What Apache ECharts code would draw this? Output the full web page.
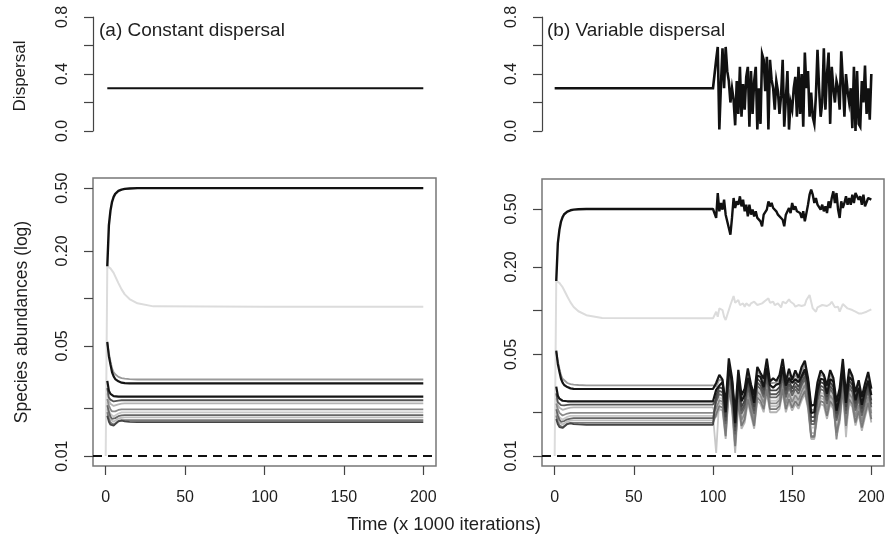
<!DOCTYPE html>
<html><head><meta charset="utf-8">
<script src="https://cdn.jsdelivr.net/npm/echarts@6/dist/echarts.min.js"></script>
<style>html,body{margin:0;padding:0;background:#fff}#c{width:889px;height:551px}</style>
</head><body><div id="c"></div>
<script>
// ---------- DATA ----------
const xTicks = [0, 50, 100, 150, 200];
const yTicksDisp = [0, 0.2, 0.4, 0.6, 0.8];
const yLabelsDisp = [0, 0.4, 0.8];
const yTicksAbund = [0.01, 0.02, 0.05, 0.1, 0.2, 0.5];
const yLabelsAbund = [0.01, 0.05, 0.2, 0.5];

// dispersal
const dispConstT = [1, 200];
const dispConstV = [0.3, 0.3];
const dispVarT = [0,100,101,102,103,104,105,106,107,108,109,110,111,112,113,114,115,116,117,118,119,120,121,122,123,124,125,126,127,128,129,130,131,132,133,134,135,136,137,138,139,140,141,142,143,144,145,146,147,148,149,150,151,152,153,154,155,156,157,158,159,160,161,162,163,164,165,166,167,168,169,170,171,172,173,174,175,176,177,178,179,180,181,182,183,184,185,186,187,188,189,190,191,192,193,194,195,196,197,198,199,200];
const dispVarV = [0.30,0.30,0.30,0.50,0.59,0.01,0.32,0.58,0.30,0.59,0.42,0.35,0.20,0.30,0.22,0.04,0.35,0.12,0.45,0.10,0.33,0.15,0.38,0.45,0.03,0.42,0.12,0.35,0.45,0.01,0.30,0.05,0.54,0.50,0.28,0.52,0.01,0.50,0.36,0.30,0.15,0.35,0.28,0.12,0.25,0.50,0.03,0.22,0.42,0.01,0.20,0.15,0.30,0.38,0.10,0.45,0.12,0.40,0.03,0.55,0.30,0.42,0.10,0.27,0.10,0.05,0.25,0.57,0.30,0.10,0.20,0.58,0.15,0.40,0.55,0.05,0.45,0.30,0.20,0.35,0.30,0.15,0.56,0.35,0.10,0.40,0.28,0.20,0.30,0.02,0.45,0.00,0.42,0.05,0.03,0.35,0.20,0.46,0.12,0.30,0.08,0.40];

// abundances: early phase (identical in both runs), last entry = t 200 for constant run
const tEarly = [0, 1, 2, 3, 4, 5, 6, 8, 10, 12, 15, 20, 30, 100, 200];
const sp1Early = [null,0.16,0.29,0.36,0.41,0.44,0.46,0.48,0.49,0.495,0.498,0.5,0.5,0.5,0.5];
const sp2Early = [0.01,0.16,0.158,0.155,0.15,0.145,0.138,0.125,0.114,0.106,0.099,0.093,0.089,0.0885,0.0885];
const c1Early = [null,0.052,0.045,0.040,0.036,0.034,0.033,0.0318,0.0312,0.031,0.0308,0.0306,0.0306,0.0306,0.0306];
const c2Early = [null,0.053,0.043,0.038,0.034,0.032,0.0308,0.0298,0.0292,0.029,0.0289,0.0289,0.0289,0.0289,0.0289];
const c3Early = [null,0.030,0.026,0.0248,0.0243,0.024,0.0239,0.0238,0.0238,0.0238,0.0238,0.0238,0.0238,0.0238,0.0238];
const c4Early = [null,0.027,0.0235,0.0228,0.0224,0.0222,0.0223,0.0225,0.0226,0.0226,0.0226,0.0226,0.0226,0.0226,0.0226];
const c5Early = [null,0.025,0.0225,0.0215,0.021,0.0208,0.021,0.0213,0.0215,0.0216,0.0216,0.0216,0.0216,0.0216,0.0216];
const c6Early = [null,0.023,0.021,0.0198,0.0192,0.019,0.0192,0.0196,0.0198,0.0198,0.0198,0.0198,0.0198,0.0198,0.0198];
const c7Early = [null,0.022,0.0195,0.0185,0.018,0.0178,0.0181,0.0186,0.0189,0.0189,0.0189,0.0189,0.0189,0.0189,0.0189];
const c8Early = [null,0.021,0.019,0.0178,0.0172,0.0171,0.0174,0.0179,0.0181,0.0182,0.0182,0.0182,0.0182,0.0182,0.0182];
const c9Early = [null,0.02,0.018,0.017,0.0166,0.0165,0.0168,0.0173,0.0175,0.0176,0.0176,0.0176,0.0176,0.0176,0.0176];
const c10Early = [null,0.019,0.0172,0.0163,0.0159,0.0158,0.0162,0.0167,0.0169,0.0169,0.0169,0.0169,0.0169,0.0169,0.0169];
const c11Early = [null,0.018,0.0165,0.0158,0.0155,0.0156,0.016,0.0166,0.0168,0.0166,0.0165,0.0164,0.0164,0.0164,0.0164];

// variable phase (run b)
const sp1VarT = [101,102,103,104,105,106,107,108,110,111,112,113,114,115,116,117,118,119,120,121,122,123,124,125,126,127,128,130,131,132,134,135,136,137,138,140,141,142,144,145,146,147,148,149,150,151,152,153,154,155,156,157,158,159,160,161,162,163,164,165,166,167,168,169,170,171,172,173,174,175,176,177,178,179,180,181,182,183,184,185,186,187,188,189,190,191,192,193,194,195,196,198,200];
const sp1VarV = [0.495,0.434,0.644,0.482,0.55,0.495,0.579,0.457,0.37,0.333,0.434,0.595,0.508,0.564,0.535,0.611,0.521,0.579,0.482,0.535,0.445,0.535,0.457,0.495,0.445,0.482,0.434,0.411,0.38,0.457,0.495,0.564,0.521,0.55,0.508,0.482,0.457,0.469,0.422,0.38,0.457,0.469,0.508,0.469,0.55,0.495,0.521,0.482,0.495,0.469,0.434,0.482,0.411,0.40,0.535,0.627,0.679,0.627,0.55,0.595,0.535,0.55,0.495,0.535,0.482,0.521,0.469,0.564,0.508,0.595,0.661,0.55,0.644,0.495,0.434,0.564,0.508,0.55,0.611,0.535,0.595,0.535,0.627,0.55,0.644,0.627,0.579,0.611,0.535,0.627,0.521,0.595,0.58];
const sp2VarT = [101,102,103,104,106,107,108,109,111,113,114,116,117,119,120,121,123,124,126,128,129,131,133,135,136,138,139,141,143,144,146,148,149,151,152,154,156,158,159,161,162,163,165,166,167,169,170,172,174,175,177,179,180,182,183,185,186,188,190,192,194,195,197,198,200];
const sp2VarV = [0.0885,0.0983,0.0908,0.1036,0.1009,0.0908,0.0862,0.0885,0.1093,0.126,0.1134,0.1183,0.1093,0.1122,0.1064,0.1122,0.1076,0.1122,0.1152,0.1093,0.111,0.1122,0.117,0.1214,0.1134,0.1152,0.1093,0.1122,0.1053,0.1152,0.1122,0.1196,0.1152,0.111,0.1064,0.1093,0.1076,0.1093,0.1183,0.128,0.1152,0.1036,0.0983,0.1053,0.1036,0.1093,0.1122,0.1076,0.111,0.1152,0.1053,0.1064,0.0983,0.111,0.1076,0.1036,0.102,0.1009,0.0983,0.0957,0.0957,0.0943,0.0983,0.1009,0.102];

const tVar = [102,104,106,108,110,112,114,116,118,120,122,124,126,128,130,132,134,136,138,140,142,144,146,148,150,152,154,156,158,160,162,164,166,168,170,172,174,176,178,180,182,184,186,188,190,192,194,196,198,200];
const c1Var = [0.0300,0.0335,0.0330,0.0210,0.0435,0.0335,0.0178,0.0362,0.0245,0.0272,0.0372,0.0302,0.0245,0.0382,0.0362,0.0318,0.0435,0.0318,0.0318,0.0320,0.0335,0.0435,0.0318,0.0372,0.0325,0.0362,0.0335,0.0382,0.0425,0.0335,0.0208,0.0208,0.0302,0.0362,0.0352,0.0286,0.0362,0.0335,0.0220,0.0272,0.0435,0.0245,0.0372,0.0345,0.0258,0.0310,0.0238,0.0294,0.0352,0.0272];
const c2Var = [0.0318,0.0362,0.0335,0.0225,0.0470,0.0345,0.0195,0.0392,0.0262,0.0290,0.0400,0.0310,0.0262,0.0410,0.0372,0.0340,0.0468,0.0325,0.0342,0.0328,0.0360,0.0465,0.0325,0.0398,0.0335,0.0388,0.0345,0.0410,0.0452,0.0345,0.0222,0.0225,0.0322,0.0388,0.0362,0.0305,0.0390,0.0345,0.0235,0.0292,0.0465,0.0262,0.0398,0.0355,0.0275,0.0332,0.0255,0.0315,0.0378,0.0290];
const c3Var = [0.0285,0.0305,0.0322,0.0200,0.0398,0.0330,0.0168,0.0335,0.0238,0.0262,0.0345,0.0295,0.0232,0.0358,0.0350,0.0298,0.0405,0.0308,0.0295,0.0310,0.0315,0.0408,0.0305,0.0345,0.0318,0.0338,0.0322,0.0355,0.0395,0.0325,0.0198,0.0200,0.0285,0.0340,0.0335,0.0268,0.0338,0.0325,0.0205,0.0258,0.0405,0.0232,0.0350,0.0330,0.0242,0.0295,0.0225,0.0282,0.0330,0.0262];
const c11Var = [0.0262,0.0298,0.0291,0.0185,0.0388,0.0298,0.0158,0.0323,0.0218,0.0241,0.0332,0.0269,0.0218,0.0341,0.0323,0.0283,0.0388,0.0283,0.0283,0.0283,0.0298,0.0388,0.0283,0.0332,0.0291,0.0323,0.0298,0.0341,0.0379,0.0298,0.0185,0.0185,0.0269,0.0323,0.0315,0.0255,0.0323,0.0298,0.0196,0.0241,0.0388,0.0218,0.0332,0.0307,0.0230,0.0276,0.0212,0.0262,0.0315,0.0241];
const c4Var = [0.0246,0.0281,0.0274,0.0174,0.0366,0.0281,0.0149,0.0304,0.0205,0.0227,0.0312,0.0253,0.0205,0.0321,0.0304,0.0266,0.0366,0.0266,0.0266,0.0266,0.0281,0.0366,0.0266,0.0312,0.0274,0.0304,0.0281,0.0321,0.0357,0.0281,0.0174,0.0174,0.0253,0.0304,0.0296,0.0240,0.0304,0.0281,0.0184,0.0227,0.0366,0.0205,0.0312,0.0289,0.0216,0.0260,0.0199,0.0246,0.0296,0.0227];
const c8Var = [0.0234,0.0267,0.0260,0.0166,0.0347,0.0267,0.0141,0.0289,0.0195,0.0216,0.0296,0.0240,0.0195,0.0305,0.0289,0.0253,0.0347,0.0253,0.0253,0.0253,0.0267,0.0347,0.0253,0.0296,0.0260,0.0289,0.0267,0.0305,0.0339,0.0267,0.0166,0.0166,0.0240,0.0289,0.0281,0.0228,0.0289,0.0267,0.0175,0.0216,0.0347,0.0195,0.0296,0.0274,0.0205,0.0247,0.0189,0.0234,0.0281,0.0216];
const c7Var = [0.0105,0.0253,0.0246,0.0157,0.0329,0.0253,0.0134,0.0274,0.0184,0.0204,0.0281,0.0228,0.0184,0.0289,0.0274,0.0240,0.0329,0.0240,0.0240,0.0240,0.0253,0.0329,0.0240,0.0281,0.0246,0.0274,0.0253,0.0289,0.0321,0.0253,0.0157,0.0157,0.0228,0.0274,0.0266,0.0216,0.0274,0.0253,0.0166,0.0204,0.0329,0.0184,0.0281,0.0260,0.0194,0.0234,0.0179,0.0222,0.0266,0.0204];
const c6Var = [0.0213,0.0242,0.0236,0.0150,0.0315,0.0242,0.0128,0.0262,0.0177,0.0196,0.0269,0.0218,0.0177,0.0277,0.0262,0.0230,0.0315,0.0230,0.0230,0.0230,0.0242,0.0315,0.0230,0.0269,0.0236,0.0262,0.0242,0.0277,0.0308,0.0242,0.0135,0.0135,0.0218,0.0262,0.0255,0.0207,0.0262,0.0242,0.0130,0.0196,0.0315,0.0177,0.0269,0.0249,0.0186,0.0224,0.0172,0.0213,0.0255,0.0196];
const c9Var = [0.0203,0.0232,0.0226,0.0144,0.0302,0.0232,0.0118,0.0251,0.0169,0.0187,0.0257,0.0209,0.0169,0.0265,0.0251,0.0220,0.0302,0.0220,0.0220,0.0220,0.0232,0.0302,0.0220,0.0257,0.0226,0.0251,0.0232,0.0265,0.0294,0.0232,0.0144,0.0144,0.0209,0.0251,0.0244,0.0198,0.0251,0.0232,0.0152,0.0187,0.0302,0.0135,0.0257,0.0238,0.0178,0.0215,0.0164,0.0203,0.0244,0.0187];
const c10Var = [0.0194,0.0221,0.0215,0.0137,0.0288,0.0221,0.0117,0.0239,0.0161,0.0179,0.0246,0.0199,0.0161,0.0253,0.0239,0.0210,0.0288,0.0210,0.0210,0.0210,0.0221,0.0288,0.0210,0.0246,0.0215,0.0239,0.0221,0.0253,0.0281,0.0221,0.0137,0.0137,0.0199,0.0239,0.0233,0.0189,0.0239,0.0221,0.0145,0.0179,0.0288,0.0161,0.0246,0.0227,0.0170,0.0205,0.0157,0.0194,0.0233,0.0179];
const c5Var = [0.0185,0.0211,0.0205,0.0131,0.0274,0.0211,0.0105,0.0228,0.0154,0.0170,0.0234,0.0190,0.0154,0.0241,0.0228,0.0200,0.0274,0.0200,0.0200,0.0200,0.0211,0.0274,0.0200,0.0234,0.0205,0.0228,0.0211,0.0241,0.0268,0.0211,0.0131,0.0131,0.0190,0.0228,0.0222,0.0180,0.0228,0.0211,0.0138,0.0170,0.0274,0.0154,0.0234,0.0217,0.0162,0.0195,0.0149,0.0185,0.0222,0.0170];

// ---------- STYLE ----------
const FONT = '"Liberation Sans", Arial, Helvetica, sans-serif';
const TXT = '#1e1e1e';

// species drawn light first, dark last
const species = [
  {early: sp2Early, varT: sp2VarT, varV: sp2VarV, color: '#dcdcdc', w: 2},
  {early: c7Early, varT: tVar, varV: c7Var, color: '#c8c8c8', w: 1.8},
  {early: c9Early, varT: tVar, varV: c9Var, color: '#bdbdbd', w: 1.8},
  {early: c5Early, varT: tVar, varV: c5Var, color: '#b4b4b4', w: 1.8},
  {early: c1Early, varT: tVar, varV: c1Var, color: '#9a9a9a', w: 1.8},
  {early: c6Early, varT: tVar, varV: c6Var, color: '#8a8a8a', w: 1.8},
  {early: c10Early, varT: tVar, varV: c10Var, color: '#7a7a7a', w: 1.8},
  {early: c8Early, varT: tVar, varV: c8Var, color: '#666666', w: 1.8},
  {early: c4Early, varT: tVar, varV: c4Var, color: '#555555', w: 1.8},
  {early: c11Early, varT: tVar, varV: c11Var, color: '#444444', w: 1.8},
  {early: c3Early, varT: tVar, varV: c3Var, color: '#151515', w: 2.2},
  {early: c2Early, varT: tVar, varV: c2Var, color: '#151515', w: 2.2},
  {early: sp1Early, varT: sp1VarT, varV: sp1VarV, color: '#111111', w: 2.4}
];

const pairs = (ts, vs) => ts.map((t, i) => [t, vs[i]]);

const series = [];
series.push({type: 'line', xAxisIndex: 0, yAxisIndex: 0, data: pairs(dispConstT, dispConstV),
  symbol: 'none', lineStyle: {color: '#111', width: 2.2}, silent: true});
series.push({type: 'line', xAxisIndex: 1, yAxisIndex: 1, data: pairs(dispVarT, dispVarV),
  symbol: 'none', lineStyle: {color: '#111', width: 2.6, join: 'miter'}, silent: true});

species.forEach(s => {
  series.push({type: 'line', xAxisIndex: 2, yAxisIndex: 2, data: pairs(tEarly, s.early),
    symbol: 'none', lineStyle: {color: s.color, width: s.w}, silent: true});
  const nB = tEarly.indexOf(100) + 1;
  const dataB = pairs(tEarly.slice(0, nB), s.early.slice(0, nB)).concat(pairs(s.varT, s.varV));
  series.push({type: 'line', xAxisIndex: 3, yAxisIndex: 3, data: dataB,
    symbol: 'none', lineStyle: {color: s.color, width: s.w}, silent: true});
});

const dashed = {symbol: 'none', silent: true, label: {show: false},
  lineStyle: {color: '#111', width: 2, type: [9, 6]}, data: [{yAxis: 0.01}]};
series.push({type: 'line', xAxisIndex: 2, yAxisIndex: 2, data: [], markLine: dashed});
series.push({type: 'line', xAxisIndex: 3, yAxisIndex: 3, data: [], markLine: dashed});

function xAx(gi, show) {
  return {type: 'value', gridIndex: gi, min: -8, max: 208, show: show,
    axisLine: {show: false, onZero: false}, splitLine: {show: false},
    axisTick: {show: true, length: 9, customValues: xTicks, lineStyle: {color: '#444', width: 1.2}},
    axisLabel: {customValues: xTicks, margin: 24, fontSize: 16, color: TXT, fontFamily: FONT}};
}
function yDisp(gi) {
  return {type: 'value', gridIndex: gi, min: 0, max: 0.8,
    axisLine: {show: true, onZero: false, lineStyle: {color: '#444', width: 1.2}},
    splitLine: {show: false},
    axisTick: {show: true, length: 9, customValues: yTicksDisp, lineStyle: {color: '#444', width: 1.2}},
    axisLabel: {customValues: yLabelsDisp, rotate: 90, margin: 22, fontSize: 16, color: TXT, fontFamily: FONT,
      formatter: v => v.toFixed(1)}};
}
function yAbund(gi, mn, mx) {
  return {type: 'log', logBase: 10, gridIndex: gi, min: mn, max: mx,
    axisLine: {show: false, onZero: false}, splitLine: {show: false}, minorTick: {show: false},
    axisTick: {show: true, length: 9, customValues: yTicksAbund, lineStyle: {color: '#444', width: 1.2}},
    axisLabel: {customValues: yLabelsAbund, rotate: 90, margin: 22, fontSize: 16, color: TXT, fontFamily: FONT,
      formatter: v => v.toFixed(2)}};
}

const option = {
  animation: false,
  backgroundColor: '#fff',
  grid: [
    {left: 93, top: 17, width: 343, height: 114},
    {left: 542, top: 17, width: 342, height: 114},
    {left: 93, top: 178, width: 343, height: 288, show: true, borderColor: '#777', borderWidth: 1.5, backgroundColor: 'transparent'},
    {left: 542, top: 179, width: 342, height: 287, show: true, borderColor: '#777', borderWidth: 1.5, backgroundColor: 'transparent'}
  ],
  xAxis: [xAx(0, false), xAx(1, false), xAx(2, true), xAx(3, true)],
  yAxis: [yDisp(0), yDisp(1), yAbund(2, 0.00865, 0.58), yAbund(3, 0.00854, 0.804)],
  series: series,
  graphic: [
    {type: 'text', x: 99, y: 31, style: {text: '(a) Constant dispersal', fill: TXT, font: '19px ' + FONT, align: 'left', verticalAlign: 'middle', textAlign: 'left', textVerticalAlign: 'middle'}},
    {type: 'text', x: 547, y: 31, style: {text: '(b) Variable dispersal', fill: TXT, font: '19px ' + FONT, align: 'left', verticalAlign: 'middle', textAlign: 'left', textVerticalAlign: 'middle'}},
    {type: 'text', x: 20, y: 76, rotation: Math.PI / 2, style: {text: 'Dispersal', fill: TXT, font: '17px ' + FONT, align: 'center', verticalAlign: 'middle', textAlign: 'center', textVerticalAlign: 'middle'}},
    {type: 'text', x: 22, y: 322, rotation: Math.PI / 2, style: {text: 'Species abundances (log)', fill: TXT, font: '17.5px ' + FONT, align: 'center', verticalAlign: 'middle', textAlign: 'center', textVerticalAlign: 'middle'}},
    {type: 'text', x: 444, y: 525, style: {text: 'Time (x 1000 iterations)', fill: TXT, font: '18.5px ' + FONT, align: 'center', verticalAlign: 'middle', textAlign: 'center', textVerticalAlign: 'middle'}}
  ]
};

const chart = echarts.init(document.getElementById('c'), null, {renderer: 'canvas'});
chart.setOption(option);
</script></body></html>
